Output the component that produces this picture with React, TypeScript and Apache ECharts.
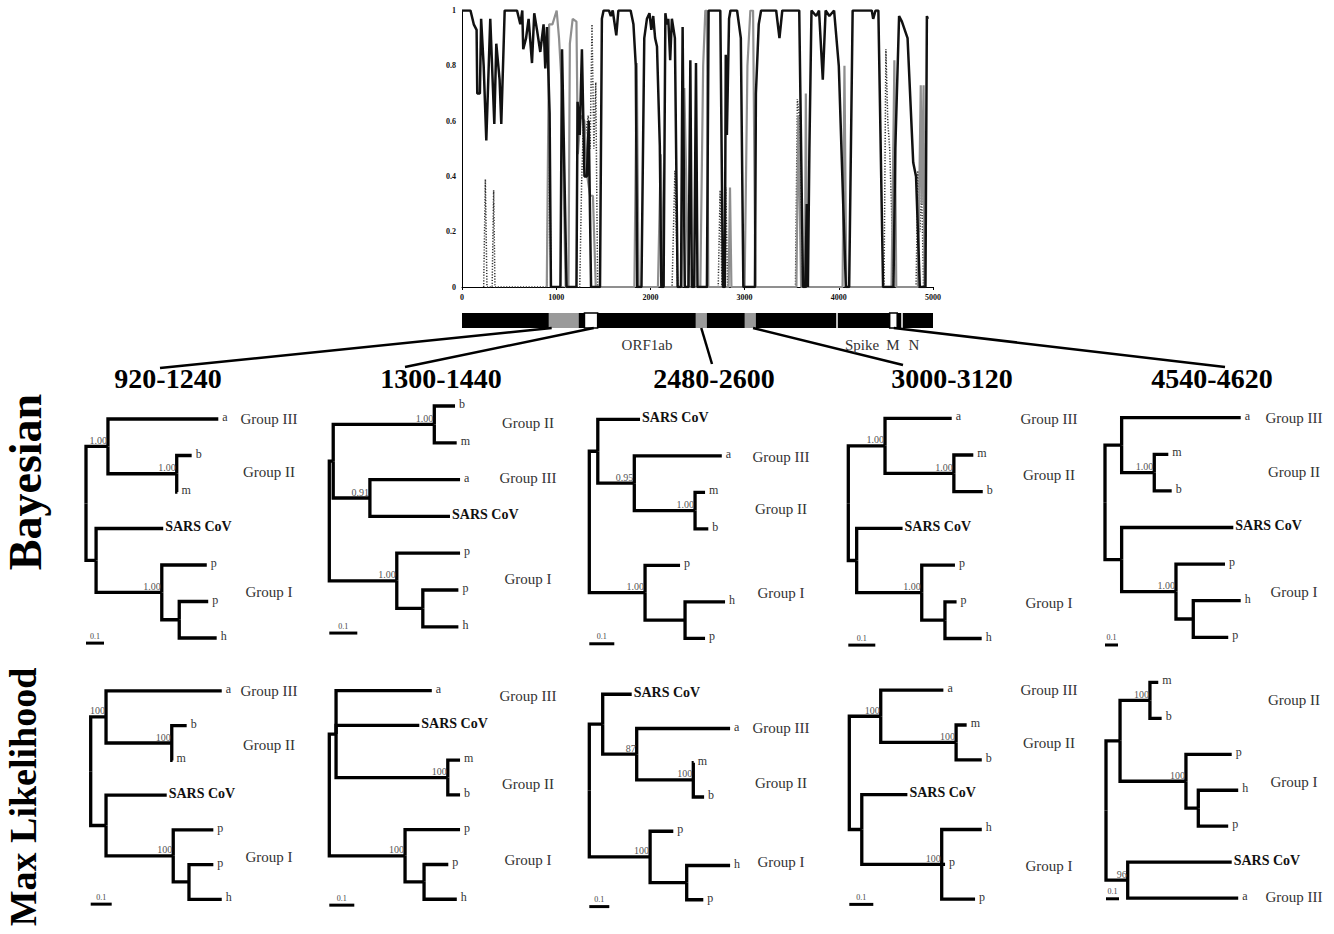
import React, { useEffect, useRef } from "react";
import * as echarts from "echarts";

const SERIF = '"Liberation Serif", "Times New Roman", serif';

// ---------------- bootscan plot data ----------------
const xTickStep = 1000;
const yTickStep = 0.2;

const blackTrace: number[][] = [
  [0, 1], [90, 1], [125, 0.95], [155, 0.93], [162, 0.7], [190, 0.7], [203, 0.97], [230, 0.8], [258, 0.53],
  [300, 0.97], [343, 0.59], [364, 0.88], [399, 0.75], [417, 0.59], [453, 1], [584, 1], [619, 0.95], [640, 1],
  [650, 0.86], [680, 0.9], [707, 0.97], [743, 0.81], [767, 0.99], [796, 0.93], [831, 0.85], [866, 0.95],
  [884, 0.79], [902, 0.94], [930, 0.63], [944, 0], [1045, 0], [1062, 0.86], [1110, 0], [1215, 0], [1227, 0.67],
  [1250, 0.55], [1273, 0.86], [1300, 0.4], [1326, 0.4], [1345, 0.6], [1370, 0], [1465, 0], [1485, 0.97],
  [1503, 1], [1560, 1], [1580, 0.98], [1600, 1], [1638, 0.91], [1660, 1], [1790, 1], [1820, 0.95], [1845, 0.8],
  [1860, 0], [1905, 0], [1935, 0.9], [1963, 0.97], [1990, 0.99], [2010, 0.93], [2030, 0.98], [2050, 0.9],
  [2070, 0.87], [2100, 0.51], [2116, 0], [2140, 0], [2159, 0.99], [2175, 0.95], [2190, 0.97], [2210, 0.82],
  [2228, 0.97], [2260, 0.9], [2289, 0], [2325, 0], [2342, 0.94], [2365, 0], [2405, 0], [2424, 0.82], [2440, 0],
  [2465, 0], [2484, 0.81], [2500, 0], [2600, 0], [2618, 1], [2742, 1], [2770, 0], [2790, 0], [2800, 0.84],
  [2812, 0.55], [2835, 0.97], [2850, 1], [2920, 1], [2960, 0.9], [2987, 0], [3110, 0], [3120, 0.7],
  [3150, 0.95], [3175, 1], [3335, 1], [3370, 0.9], [3400, 1], [3580, 1], [3620, 0], [3645, 0], [3660, 0.3],
  [3672, 0], [3688, 0.5], [3710, 1], [3760, 0.98], [3790, 1], [3830, 0.75], [3860, 1], [3900, 0.98], [3950, 1],
  [4000, 0.8], [4075, 0], [4110, 0], [4147, 1], [4350, 1], [4365, 0.97], [4390, 1], [4420, 1], [4470, 0],
  [4580, 0], [4600, 0.5], [4640, 0.98], [4670, 0.96], [4730, 0.9], [4790, 0.45], [4820, 0.4], [4860, 0],
  [4920, 0], [4935, 0.98], [4945, 0.97],
];

const grayTrace: number[][] = [
  [900, 0], [925, 0.95], [960, 0.95], [1005, 1], [1030, 0.9], [1060, 0.72], [1100, 0], [1130, 0], [1145, 0.88],
  [1175, 0.97], [1215, 0.96], [1230, 0.48], [1260, 0.62], [1300, 0.6], [1330, 0.4], [1360, 0.33], [1390, 0.33],
  [1420, 0], [1830, 0], [1855, 0.81], [1875, 0], [2080, 0], [2110, 0.48], [2140, 0], [2330, 0], [2360, 0.72],
  [2380, 0.4], [2400, 0], [2530, 0], [2560, 0.8], [2583, 1], [2600, 1], [2615, 0], [2830, 0], [2845, 0.36],
  [2860, 0], [3000, 0], [3030, 0.8], [3061, 1], [3090, 1], [3115, 0], [3550, 0], [3570, 0.62], [3600, 0],
  [3640, 0], [3650, 0.7], [3665, 0], [4040, 0], [4060, 0.8], [4080, 0], [4560, 0], [4590, 0.82], [4610, 0],
  [4840, 0], [4870, 0.73], [4880, 0.3], [4900, 0.73], [4910, 0],
];

const dottedTrace: number[][] = [
  [230, 0], [248, 0.39], [265, 0], [320, 0], [336, 0.35], [350, 0], [900, 0], [925, 0.63], [945, 0],
  [1250, 0], [1270, 0.38], [1290, 0.6], [1310, 0.55], [1340, 0.62], [1360, 0.5], [1380, 0.95], [1400, 0.5],
  [1420, 0.74], [1440, 0], [2230, 0], [2260, 0.42], [2290, 0], [2720, 0], [2740, 0.35], [2760, 0], [2780, 0],
  [2800, 0.36], [2820, 0], [3540, 0], [3560, 0.68], [3580, 0.62], [3600, 0], [4480, 0], [4500, 0.86],
  [4520, 0.6], [4540, 0.5], [4560, 0.28], [4580, 0], [4820, 0], [4840, 0.42], [4860, 0.2], [4880, 0.35], [4900, 0],
];

// ---------------- genome map data ----------------
const genomeLength = 5000;
const windowRanges: number[][] = [[920, 1240], [1300, 1440], [2480, 2600], [3000, 3120], [4540, 4620]];
const windowTitles = ["920-1240", "1300-1440", "2480-2600", "3000-3120", "4540-4620"];
const windowKinds = ["gray", "white", "gray", "gray", "white"];
const geneBoundaries = [3981, 4671];
const geneNames = ["ORF1ab", "Spike", "M", "N"];
const geneLabelPos = [1964, 4246, 4575, 4798];
const methodNames = ["Bayesian", "Max Likelihood"];

// ---------------- trees (d = cumulative branch length from root, r = leaf row) ----------------
const Lf = (n: string, d: number, r: number) => ({ n, d, r });
const Nd = (d: number, c: any[], s?: string) => ({ d, c, s });

const bayesTrees = [
  Nd(0, [
    Nd(0.122, [Lf("a", 0.735, 0), Nd(0.504, [Lf("b", 0.587, 1), Lf("m", 0.508, 2)], "1.00")], "1.00"),
    Nd(0.056, [Lf("SARS CoV", 0.429, 3), Nd(0.421, [Lf("p", 0.671, 4), Nd(0.518, [Lf("p", 0.679, 5), Lf("h", 0.726, 6)])], "1.00")]),
  ]),
  Nd(0, [
    Nd(0.014, [
      Nd(0.375, [Lf("b", 0.449, 0), Lf("m", 0.455, 1)], "1.00"),
      Nd(0.145, [Lf("a", 0.467, 2), Lf("SARS CoV", 0.431, 3)], "0.91"),
    ]),
    Nd(0.241, [Lf("p", 0.467, 4), Nd(0.334, [Lf("p", 0.461, 5), Lf("h", 0.461, 6)])], "1.00"),
  ]),
  Nd(0, [
    Nd(0.034, [
      Lf("SARS CoV", 0.203, 0),
      Nd(0.18, [Lf("a", 0.53, 1), Nd(0.423, [Lf("m", 0.463, 2), Lf("b", 0.476, 3)], "1.00")], "0.95"),
    ]),
    Nd(0.223, [Lf("p", 0.363, 4), Nd(0.383, [Lf("h", 0.543, 5), Lf("p", 0.463, 6)])], "1.00"),
  ]),
  Nd(0, [
    Nd(0.136, [Lf("a", 0.383, 0), Nd(0.391, [Lf("m", 0.463, 1), Lf("b", 0.498, 2)], "1.00")], "1.00"),
    Nd(0.031, [Lf("SARS CoV", 0.201, 3), Nd(0.272, [Lf("p", 0.395, 4), Nd(0.358, [Lf("p", 0.401, 5), Lf("h", 0.494, 6)])], "1.00")]),
  ]),
  Nd(0, [
    Nd(0.128, [Lf("a", 1.044, 0), Nd(0.379, [Lf("m", 0.487, 1), Lf("b", 0.513, 2)], "1.00")]),
    Nd(0.128, [Lf("SARS CoV", 0.987, 3), Nd(0.546, [Lf("p", 0.923, 4), Nd(0.679, [Lf("h", 1.044, 5), Lf("p", 0.948, 6)])], "1.00")]),
  ]),
];

const mlTrees = [
  Nd(0, [
    Nd(0.073, [Lf("a", 0.624, 0), Nd(0.386, [Lf("b", 0.457, 1), Lf("m", 0.39, 2)], "100")], "100"),
    Nd(0.073, [Lf("SARS CoV", 0.362, 3), Nd(0.393, [Lf("p", 0.584, 4), Nd(0.468, [Lf("p", 0.584, 5), Lf("h", 0.624, 6)])], "100")]),
  ]),
  Nd(0, [
    Nd(0.027, [Lf("a", 0.41, 0), Lf("SARS CoV", 0.36, 1), Nd(0.474, [Lf("m", 0.523, 2), Lf("b", 0.523, 3)], "100")]),
    Nd(0.303, [Lf("p", 0.523, 4), Nd(0.379, [Lf("p", 0.476, 5), Lf("h", 0.51, 6)])], "100"),
  ]),
  Nd(0, [
    Nd(0.067, [
      Lf("SARS CoV", 0.212, 0),
      Nd(0.237, [Lf("a", 0.704, 1), Nd(0.52, [Lf("m", 0.522, 2), Lf("b", 0.574, 3)], "100")], "87"),
    ]),
    Nd(0.304, [Lf("p", 0.42, 4), Nd(0.487, [Lf("h", 0.704, 5), Lf("p", 0.57, 6)])], "100"),
  ]),
  Nd(0, [
    Nd(0.131, [Lf("a", 0.392, 0), Nd(0.445, [Lf("m", 0.489, 1), Lf("b", 0.552, 2)], "100")], "100"),
    Nd(0.052, [Lf("SARS CoV", 0.242, 3), Nd(0.385, [Lf("h", 0.552, 4), Lf("p", 0.399, 5), Lf("p", 0.524, 6)], "100")]),
  ]),
  Nd(0, [
    Nd(0.108, [
      Nd(0.338, [Lf("m", 0.402, 0), Lf("b", 0.428, 1)], "100"),
      Nd(0.615, [Lf("p", 0.967, 2), Nd(0.71, [Lf("h", 1.017, 3), Lf("p", 0.94, 4)])], "100"),
    ]),
    Nd(0.167, [Lf("SARS CoV", 0.967, 5), Lf("a", 1.017, 6)], "96"),
  ]),
];

const bayesGroups: [string, number][][] = [
  [["Group III", 0], ["Group II", 1.45], ["Group I", 4.74]],
  [["Group II", 0.47], ["Group III", 1.96], ["Group I", 4.7]],
  [["Group III", 1.02], ["Group II", 2.46], ["Group I", 4.75]],
  [["Group III", 0.03], ["Group II", 1.54], ["Group I", 5.02]],
  [["Group III", 0], ["Group II", 1.48], ["Group I", 4.75]],
];
const mlGroups: [string, number][][] = [
  [["Group III", 0], ["Group II", 1.55], ["Group I", 4.77]],
  [["Group III", 0.15], ["Group II", 2.69], ["Group I", 4.86]],
  [["Group III", 0.98], ["Group II", 2.59], ["Group I", 4.89]],
  [["Group III", 0], ["Group II", 1.53], ["Group I", 5.06]],
  [["Group II", 0.5], ["Group I", 2.76], ["Group III", 5.98]],
];
const scaleBarLength = 0.1;

// ---------------- layout (positions / sizes) ----------------
const TOP_GRID = { left: 462, top: 10.5, width: 471, height: 276.5 };
const GENOME_GRID = { left: 462, top: 313, width: 471, height: 15 };
const TITLE_X = [168, 441, 714, 952, 1212];
const TITLE_Y = 378;
const LINK_END = [[160, 368], [405, 367], [712, 364], [903, 365], [1225, 367]];
const LINK_FRAC = [0.1, 0.7, 0.5, 0.75, 0.55];
const METHOD_POS = [[25, 482], [23, 797]];
const METHOD_SIZE = [46, 38];

const BAYES_LAYOUT = [
  { rootX: 86, row0: 419, rowH: 36.5, barPx: 18, labelX: 269, barRow: 6.14 },
  { rootX: 329.3, row0: 406, rowH: 36.8, barPx: 28, labelX: 528, barRow: 6.17 },
  { rootX: 589.3, row0: 419.3, rowH: 36.5, barPx: 25, labelX: 781, barRow: 6.15 },
  { rootX: 848.3, row0: 418.3, rowH: 36.7, barPx: 27, labelX: 1049, barRow: 6.18 },
  { rootX: 1105, row0: 417.7, rowH: 36.6, barPx: 13, labelX: 1294, barRow: 6.21 },
];
const ML_LAYOUT = [
  { rootX: 90.7, row0: 692.7, rowH: 36.5, barPx: 21, labelX: 269, barRow: 6.14 },
  { rootX: 329.3, row0: 692.7, rowH: 36.8, barPx: 25, labelX: 528, barRow: 6.17 },
  { rootX: 589.3, row0: 696.7, rowH: 36.7, barPx: 20, labelX: 781, barRow: 6.2 },
  { rootX: 849.3, row0: 691.7, rowH: 36.4, barPx: 24, labelX: 1049, barRow: 6.15 },
  { rootX: 1106, row0: 683.3, rowH: 36.8, barPx: 13, labelX: 1294, barRow: 6.02 },
];

function treeItems(root: any, groups: [string, number][], xmax: number, barRow: number) {
  const items: any[] = [];
  const setY = (n: any): number => {
    if (!n.c) return (n.y = n.r);
    n.c.forEach(setY);
    n.y = (n.c[0].y + n.c[n.c.length - 1].y) / 2;
    return n.y;
  };
  setY(root);
  const walk = (p: any) => {
    p.c.forEach((c: any) => {
      items.push({ kind: "branch", x: c.d, y: c.y, pts: [[p.d, p.y], [p.d, c.y], [c.d, c.y]] });
      if (c.c) walk(c);
    });
  };
  walk(root);
  const labels = (p: any) => {
    p.c.forEach((c: any) => {
      if (!c.c) items.push({ kind: "leaf", x: c.d, y: c.y, text: c.n });
      else {
        if (c.s) items.push({ kind: "support", x: c.d, y: c.y, text: c.s });
        labels(c);
      }
    });
  };
  labels(root);
  groups.forEach(([g, r]) => items.push({ kind: "group", x: xmax, y: r, text: g }));
  items.push({ kind: "bar", x: 0, y: barRow });
  return items;
}

function treeRender(items: any[]) {
  return (params: any, api: any) => {
    const it = items[params.dataIndex];
    if (it.kind === "branch") {
      return {
        type: "polyline",
        shape: { points: it.pts.map((p: number[]) => api.coord(p)) },
        style: { stroke: "#000", lineWidth: 3.3, fill: "none", lineJoin: "miter" },
      };
    }
    const pt = api.coord([it.x, it.y]);
    if (it.kind === "leaf") {
      const sars = it.text === "SARS CoV";
      return {
        type: "text",
        x: pt[0] + (sars ? 2 : 4),
        y: pt[1] - 2,
        style: {
          text: it.text,
          fontFamily: SERIF,
          fontSize: sars ? 14 : 12,
          fontWeight: sars ? "bold" : "normal",
          fill: sars ? "#111" : "#333",
          align: "left",
          verticalAlign: "middle",
        },
      };
    }
    if (it.kind === "support") {
      return {
        type: "text",
        x: pt[0] - 1,
        y: pt[1] - 1,
        style: { text: it.text, fontFamily: SERIF, fontSize: 10, fill: "#555", align: "right", verticalAlign: "bottom" },
      };
    }
    if (it.kind === "group") {
      return {
        type: "text",
        x: pt[0],
        y: pt[1],
        style: { text: it.text, fontFamily: SERIF, fontSize: 15, fill: "#333", align: "center", verticalAlign: "middle" },
      };
    }
    const end = api.coord([it.x + scaleBarLength, it.y]);
    return {
      type: "group",
      children: [
        { type: "line", shape: { x1: pt[0], y1: pt[1], x2: end[0], y2: end[1] }, style: { stroke: "#000", lineWidth: 3 } },
        {
          type: "text",
          x: (pt[0] + end[0]) / 2,
          y: pt[1] - 3,
          style: { text: String(scaleBarLength), fontFamily: SERIF, fontSize: 8, fill: "#444", align: "center", verticalAlign: "bottom" },
        },
      ],
    };
  };
}

function buildOption() {
  const grids: any[] = [];
  const xAxes: any[] = [];
  const yAxes: any[] = [];
  const series: any[] = [];
  const axisFont = { fontFamily: SERIF, fontSize: 8, fontWeight: "bold", color: "#111" };

  // grid 0 : bootscan
  grids.push({ ...TOP_GRID, containLabel: false });
  xAxes.push({
    gridIndex: 0, type: "value", min: 0, max: genomeLength, interval: xTickStep,
    axisLine: { lineStyle: { color: "#000", width: 1 } },
    axisTick: { length: 3, lineStyle: { color: "#000" } },
    axisLabel: { ...axisFont, margin: 6, formatter: (v: number) => String(v) },
    splitLine: { show: false },
  });
  yAxes.push({
    gridIndex: 0, type: "value", min: 0, max: 1, interval: yTickStep,
    axisLine: { show: true, lineStyle: { color: "#000", width: 1 } },
    axisTick: { show: false },
    axisLabel: { ...axisFont, margin: 6, formatter: (v: number) => (v === 0 || v === 1 ? String(v) : v.toFixed(1)) },
    splitLine: { show: false },
  });
  series.push({
    type: "line", xAxisIndex: 0, yAxisIndex: 0, data: dottedTrace, symbol: "none",
    lineStyle: { color: "#333", width: 1.5, type: [1.2, 1.6] },
  });
  series.push({
    type: "line", xAxisIndex: 0, yAxisIndex: 0, data: grayTrace, symbol: "none",
    lineStyle: { color: "#8f8f8f", width: 2.2 },
  });
  series.push({
    type: "line", xAxisIndex: 0, yAxisIndex: 0, data: blackTrace, symbol: "none",
    lineStyle: { color: "#111", width: 2.5 },
  });

  // grid 1 : genome map
  grids.push({ ...GENOME_GRID, containLabel: false });
  xAxes.push({ gridIndex: 1, type: "value", min: 0, max: genomeLength, show: false });
  yAxes.push({ gridIndex: 1, type: "value", min: 0, max: 1, show: false });
  const gItems: any[] = [{ kind: "base", a: 0, b: genomeLength }];
  windowRanges.forEach((w, i) => gItems.push({ kind: windowKinds[i], a: w[0], b: w[1] }));
  geneBoundaries.forEach((x) => gItems.push({ kind: "sep", a: x, b: x }));
  windowRanges.forEach((w, i) => gItems.push({ kind: "link", a: w[0] + LINK_FRAC[i] * (w[1] - w[0]), b: 0, i }));
  geneNames.forEach((g, i) => gItems.push({ kind: "gene", a: geneLabelPos[i], b: 0, text: g }));
  series.push({
    type: "custom", xAxisIndex: 1, yAxisIndex: 1, clip: false,
    data: gItems.map((g) => [g.a, g.b]),
    renderItem: (params: any, api: any) => {
      const g = gItems[params.dataIndex];
      if (g.kind === "base" || g.kind === "gray" || g.kind === "white") {
        const p0 = api.coord([g.a, 1]);
        const p1 = api.coord([g.b, 0]);
        const fill = g.kind === "base" ? "#000" : g.kind === "gray" ? "#9a9a9a" : "#fff";
        return {
          type: "rect",
          shape: { x: p0[0], y: p0[1], width: p1[0] - p0[0], height: p1[1] - p0[1] },
          style: g.kind === "white" ? { fill, stroke: "#000", lineWidth: 1.5 } : { fill },
        };
      }
      if (g.kind === "sep") {
        const p0 = api.coord([g.a, 1]);
        const p1 = api.coord([g.a, 0]);
        return { type: "line", shape: { x1: p0[0], y1: p0[1], x2: p1[0], y2: p1[1] }, style: { stroke: "#fff", lineWidth: 1.5 } };
      }
      if (g.kind === "link") {
        const p0 = api.coord([g.a, 0]);
        const e = LINK_END[g.i];
        return { type: "line", shape: { x1: p0[0], y1: p0[1], x2: e[0], y2: e[1] }, style: { stroke: "#000", lineWidth: 2.5 } };
      }
      const p = api.coord([g.a, 0]);
      return {
        type: "text", x: p[0], y: p[1] + 17,
        style: { text: g.text, fontFamily: SERIF, fontSize: 15, fill: "#333", align: "center", verticalAlign: "middle" },
      };
    },
  });

  // trees
  const addTree = (tree: any, groups: [string, number][], lay: any) => {
    const gi = grids.length;
    const xmax = ((lay.labelX - lay.rootX) / lay.barPx) * scaleBarLength;
    grids.push({ left: lay.rootX, top: lay.row0 - lay.rowH, width: lay.labelX - lay.rootX, height: lay.rowH * 8, containLabel: false });
    xAxes.push({ gridIndex: gi, type: "value", min: 0, max: xmax, show: false });
    yAxes.push({ gridIndex: gi, type: "value", min: -1, max: 7, inverse: true, show: false });
    const items = treeItems(tree, groups, xmax, lay.barRow);
    series.push({
      type: "custom", xAxisIndex: gi, yAxisIndex: gi, clip: false,
      data: items.map((it) => [it.x, it.y]),
      renderItem: treeRender(items),
    });
  };
  bayesTrees.forEach((t, i) => addTree(t, bayesGroups[i], BAYES_LAYOUT[i]));
  mlTrees.forEach((t, i) => addTree(t, mlGroups[i], ML_LAYOUT[i]));

  const graphic: any[] = [];
  windowTitles.forEach((t, i) =>
    graphic.push({
      type: "text", x: TITLE_X[i], y: TITLE_Y,
      style: { text: t, fontFamily: SERIF, fontSize: 28, fontWeight: "bold", fill: "#000", align: "center", verticalAlign: "middle" },
    })
  );
  methodNames.forEach((t, i) =>
    graphic.push({
      type: "text", x: METHOD_POS[i][0], y: METHOD_POS[i][1], rotation: Math.PI / 2,
      style: { text: t, fontFamily: SERIF, fontSize: METHOD_SIZE[i], fontWeight: "bold", fill: "#000", align: "center", verticalAlign: "middle" },
    })
  );

  return { animation: false, backgroundColor: "#fff", grid: grids, xAxis: xAxes, yAxis: yAxes, series, graphic };
}

export default function App() {
  const ref = useRef<HTMLDivElement>(null);
  useEffect(() => {
    if (!ref.current) return;
    const chart = echarts.init(ref.current, undefined, { renderer: "svg" });
    chart.setOption(buildOption() as any);
    return () => chart.dispose();
  }, []);
  return (
    <div
      ref={ref}
      style={{ position: "absolute", left: 0, top: 0, width: 1334, height: 934, background: "#fff" }}
    />
  );
}
